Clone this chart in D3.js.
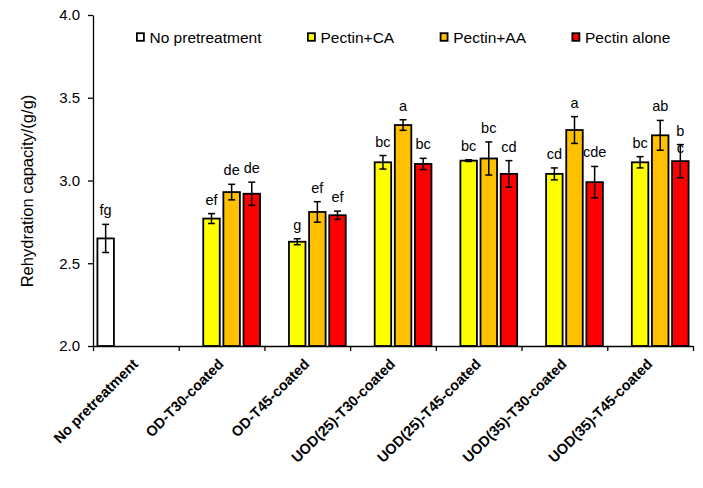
<!DOCTYPE html>
<html>
<head>
<meta charset="utf-8">
<script src="https://cdn.jsdelivr.net/npm/d3@7"></script>
<style>
  html, body { margin: 0; padding: 0; background: #fff; }
  svg { display: block; font-family: "Liberation Sans", Arial, sans-serif; }
</style>
</head>
<body>
<svg id="chart" width="703" height="488"></svg>
<script>
// ---------- data ----------
const categories = ["No pretreatment", "OD-T30-coated", "OD-T45-coated", "UOD(25)-T30-coated",
                    "UOD(25)-T45-coated", "UOD(35)-T30-coated", "UOD(35)-T45-coated"];
const seriesNames = ["No pretreatment", "Pectin+CA", "Pectin+AA", "Pectin alone"];

const noPretreatment    = [2.65, null, null, null, null, null, null];
const pectinCA          = [null, 2.77, 2.63, 3.11, 3.12, 3.04, 3.11];
const pectinAA          = [null, 2.93, 2.81, 3.335, 3.133, 3.305, 3.273];
const pectinAlone       = [null, 2.92, 2.79, 3.10, 3.04, 2.99, 3.117];

const noPretreatmentErr = [0.085, null, null, null, null, null, null];
const pectinCAErr       = [null, 0.03, 0.018, 0.041, 0.005, 0.036, 0.034];
const pectinAAErr       = [null, 0.047, 0.062, 0.032, 0.10, 0.081, 0.09];
const pectinAloneErr    = [null, 0.07, 0.025, 0.034, 0.08, 0.095, 0.10];

const noPretreatmentSig = ["fg", null, null, null, null, null, null];
const pectinCASig       = [null, "ef", "g", "bc", "bc", "cd", "bc"];
const pectinAASig       = [null, "de", "ef", "a", "bc", "a", "ab"];
const pectinAloneSig    = [null, "de", "ef", "bc", "cd", "cde", "b\nc"];

const yTicks = [2.0, 2.5, 3.0, 3.5, 4.0];
const yTitle = "Rehydration capacity/(g/g)";

const seriesColors = ["#FFFFFF", "#FFFF00", "#FFC000", "#FF0000"];

const seriesValues = [noPretreatment, pectinCA, pectinAA, pectinAlone];
const seriesErrs   = [noPretreatmentErr, pectinCAErr, pectinAAErr, pectinAloneErr];
const seriesSigs   = [noPretreatmentSig, pectinCASig, pectinAASig, pectinAloneSig];

// ---------- layout ----------
const svg = d3.select("#chart");
const mLeft = 93, mRight = 693, mTop = 15, mBottom = 346;

const x = d3.scaleBand().domain(categories).range([mLeft, mRight]).padding(0);
const x1 = d3.scaleBand().domain(seriesNames)
  .range([4.4, x.bandwidth() - 4.4]).paddingInner(0.18).paddingOuter(0);
const y = d3.scaleLinear().domain([2, 4]).range([mBottom, mTop]);

const records = [];
seriesNames.forEach((s, si) => {
  categories.forEach((c, ci) => {
    const v = seriesValues[si][ci];
    if (v == null) return;
    records.push({ s, si, c, v, e: seriesErrs[si][ci], sig: seriesSigs[si][ci] });
  });
});

// bars
svg.append("g").selectAll("rect").data(records).join("rect")
  .attr("x", d => x(d.c) + x1(d.s))
  .attr("y", d => y(d.v))
  .attr("width", x1.bandwidth())
  .attr("height", d => y(2) - y(d.v))
  .attr("fill", d => seriesColors[d.si])
  .attr("stroke", "#000")
  .attr("stroke-width", 1.8);

// error bars
const eg = svg.append("g").attr("stroke", "#000").attr("stroke-width", 1.5);
records.forEach(d => {
  const cx = x(d.c) + x1(d.s) + x1.bandwidth() / 2;
  const y0 = y(d.v - d.e), y1 = y(d.v + d.e);
  eg.append("line").attr("x1", cx).attr("x2", cx).attr("y1", y0).attr("y2", y1);
  eg.append("line").attr("x1", cx - 3.5).attr("x2", cx + 3.5).attr("y1", y0).attr("y2", y0);
  eg.append("line").attr("x1", cx - 3.5).attr("x2", cx + 3.5).attr("y1", y1).attr("y2", y1);
});

// significance letters
const lg = svg.append("g").attr("font-size", 14.5).attr("fill", "#000").attr("text-anchor", "middle");
records.forEach(d => {
  if (!d.sig) return;
  const cx = x(d.c) + x1(d.s) + x1.bandwidth() / 2;
  const yt = y(d.v + d.e) - 9;
  const t = lg.append("text").attr("x", cx).attr("y", yt);
  d.sig.split("\n").forEach((line, i) => {
    t.append("tspan").attr("x", cx).attr("dy", i === 0 ? 0 : 17).text(line);
  });
});

// y axis
const yAxis = svg.append("g").attr("transform", `translate(${mLeft},0)`)
  .call(d3.axisLeft(y).tickValues(yTicks).tickFormat(d3.format(".1f"))
    .tickSize(5).tickSizeOuter(0).tickPadding(8));
yAxis.selectAll("path, line").attr("stroke", "#000").attr("stroke-width", 1.3);
yAxis.selectAll("text").attr("font-size", 15).attr("fill", "#000")
  .attr("font-family", "'Liberation Sans', Arial, sans-serif");

// x axis
const xAxis = svg.append("g").attr("transform", `translate(0,${mBottom})`)
  .call(d3.axisBottom(x).tickSize(0).tickSizeOuter(0).tickPadding(0));
xAxis.select("path").attr("stroke", "#000").attr("stroke-width", 1.3);
xAxis.selectAll(".tick text")
  .attr("font-size", 14.5).attr("font-weight", "bold").attr("fill", "#000")
  .attr("font-family", "'Liberation Sans', Arial, sans-serif")
  .attr("text-anchor", "end")
  .attr("dy", 0).attr("y", 0).attr("x", 0)
  .attr("transform", "translate(3,19) rotate(-45)");
// boundary ticks
const bounds = categories.map(c => x(c)).concat([x.range()[1]]);
svg.append("g").selectAll("line").data(bounds).join("line")
  .attr("x1", d => d + 0.5).attr("x2", d => d + 0.5)
  .attr("y1", mBottom).attr("y2", mBottom + 5)
  .attr("stroke", "#000").attr("stroke-width", 1.3);

// y title
svg.append("text")
  .attr("transform", `translate(33,191) rotate(-90)`)
  .attr("text-anchor", "middle")
  .attr("font-size", 16.5)
  .attr("fill", "#000")
  .text(yTitle);

// legend
const legend = svg.append("g").attr("font-size", 15.5);
let lx = 136;
seriesNames.forEach((s, i) => {
  const g = legend.append("g").attr("transform", `translate(${lx},0)`);
  g.append("rect").attr("x", 0.9).attr("y", 33.2).attr("width", 7).attr("height", 7.6)
    .attr("fill", seriesColors[i]).attr("stroke", "#000").attr("stroke-width", 1.8);
  const t = g.append("text").attr("x", 13.5).attr("y", 42.8).attr("fill", "#000").text(s);
  lx += 13.5 + t.node().getComputedTextLength() + 45.5;
});
</script>
</body>
</html>
